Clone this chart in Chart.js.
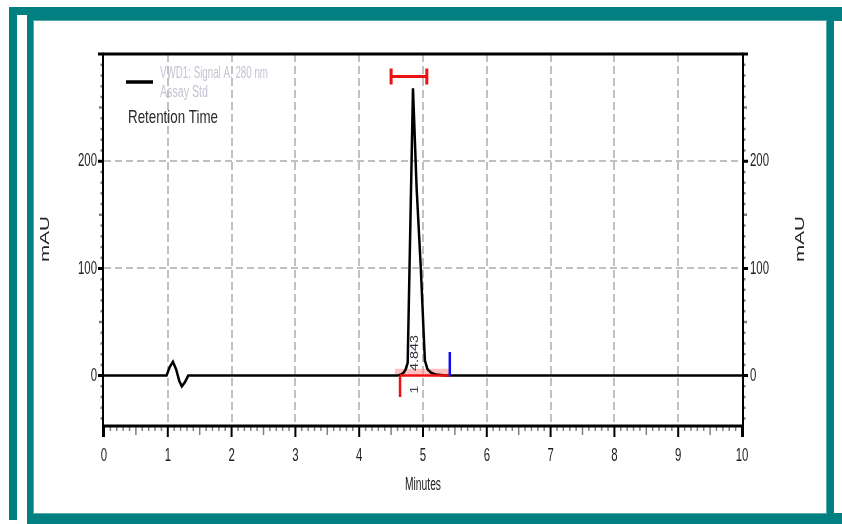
<!DOCTYPE html>
<html>
<head>
<meta charset="utf-8">
<title>Chromatogram</title>
<script src="https://cdn.jsdelivr.net/npm/chart.js@4.4.1/dist/chart.umd.min.js"></script>
<style>
  html, body { margin: 0; padding: 0; background: #fff; }
  #wrap { position: relative; width: 842px; height: 524px; overflow: hidden; background: #fff; }
  .fr { position: absolute; }
  #chart { position: absolute; left: 0; top: 0; }
</style>
</head>
<body>
<div id="wrap">
  <!-- window frame -->
  <div class="fr" style="left:9px;top:7px;width:833px;height:517px;background:#008080"></div>
  <div class="fr" style="left:17px;top:15px;width:10px;height:505px;background:#fff"></div>
  <div class="fr" style="left:9px;top:520px;width:18px;height:4px;background:#fff"></div>
  <div class="fr" style="left:34px;top:21px;width:792px;height:492px;background:#fff;box-shadow:0 0 0 1px #5aa9a9"></div>
  <div class="fr" style="left:834px;top:21px;width:8px;height:492px;background:#fff"></div>
  <canvas id="chart" width="842" height="524"></canvas>
</div>
<script>
// signal trace (minutes, mAU)
var timeMin = [0, 0.98, 1.03, 1.08, 1.13, 1.18, 1.22, 1.27, 1.32, 4.60, 4.66, 4.70, 4.73, 4.76, 4.843, 4.90, 4.966, 5.01, 5.03, 5.07, 5.12, 5.20, 5.35, 10];
var signal  = [0, 0, 8, 13, 6, -5, -10, -6, 0, 0, 1, 3, 6, 12, 268, 175, 100, 40, 14, 6, 3, 1, 0, 0];

// retention time window and integration marks
var rtWindow = [4.50, 5.06];
var rtWindowLevel = 279;
var intStart = 4.64, intEnd = 5.42;
var intStartDrop = -20, intEndRise = 22;
var peakRT = '4.843';

// axes
var xRange = [0, 10];
var yRange = [-47, 300];
var xTickLabels = ['0', '1', '2', '3', '4', '5', '6', '7', '8', '9', '10'];
var yTickValues = [0, 100, 200];

var legendText = ['VWD1: Signal A, 280 nm', 'Assay Std'];
var legendExtra = 'Retention Time';
var yTitle = 'mAU';
var xTitle = 'Minutes';

var FONT = 'Liberation Sans, Arial, sans-serif';
var RED = '#ee1111';

function pts(xs, ys) {
  return xs.map(function (x, i) { return { x: x, y: ys[i] }; });
}

// text drawn narrow and tall, like the instrument printout
function squish(ctx, str, x, y, o) {
  ctx.save();
  ctx.translate(x, y);
  if (o.rot) ctx.rotate(o.rot);
  ctx.font = o.size + 'px ' + FONT;
  var along = o.sx;
  if (o.w) along = o.w / ctx.measureText(str).width;
  ctx.scale(along, o.sy || 1);
  ctx.fillStyle = o.color || '#222';
  ctx.textAlign = o.align || 'center';
  ctx.textBaseline = 'middle';
  ctx.fillText(str, 0, 0);
  ctx.restore();
}

var decor = {
  id: 'decor',
  afterDatasetsDraw: function (chart) {
    var ctx = chart.ctx;
    var a = chart.chartArea;
    var xs = chart.scales.x, ys = chart.scales.y;
    ctx.save();
    ctx.lineCap = 'butt';

    // y ticks on both sides
    for (var v = -40; v <= 300; v += 10) {
      var py = ys.getPixelForValue(v);
      var major = v % 100 === 0, mid = v % 50 === 0;
      ctx.strokeStyle = major ? '#000' : '#808080';
      ctx.lineWidth = major ? 3 : 2.5;
      var len = major ? 6 : (mid ? 5 : 3.5);
      ctx.beginPath();
      ctx.moveTo(a.left - len, py); ctx.lineTo(a.left, py);
      ctx.moveTo(a.right, py); ctx.lineTo(a.right + len, py);
      ctx.stroke();
    }
    // x ticks
    for (var i = 0; i <= 100; i++) {
      var px = xs.getPixelForValue(i / 10);
      var maj = i % 10 === 0, half = i % 5 === 0;
      ctx.strokeStyle = maj ? '#000' : '#808080';
      ctx.lineWidth = maj ? 2 : 1.5;
      ctx.beginPath();
      ctx.moveTo(px, a.bottom);
      ctx.lineTo(px, a.bottom + (maj ? 11 : (half ? 9 : 5)));
      ctx.stroke();
    }

    // frame of the plot
    ctx.strokeStyle = '#000';
    ctx.lineWidth = 3;
    ctx.beginPath();
    ctx.moveTo(a.left - 1, a.top); ctx.lineTo(a.right + 1, a.top);
    ctx.moveTo(a.left - 1, a.bottom); ctx.lineTo(a.right + 1, a.bottom);
    ctx.stroke();
    ctx.lineWidth = 2;
    ctx.beginPath();
    ctx.moveTo(a.left - 1, a.top); ctx.lineTo(a.left - 1, a.bottom + 11);
    ctx.moveTo(a.right + 1, a.top); ctx.lineTo(a.right + 1, a.bottom + 11);
    ctx.stroke();

    // tick labels
    yTickValues.forEach(function (v) {
      var py = ys.getPixelForValue(v);
      squish(ctx, String(v), a.left - 7, py, { size: 19, sx: 0.6, align: 'right' });
      squish(ctx, String(v), a.right + 8, py, { size: 19, sx: 0.6, align: 'left' });
    });
    xTickLabels.forEach(function (t, i) {
      squish(ctx, t, xs.getPixelForValue(i), a.bottom + 30, { size: 19, sx: 0.6 });
    });

    // axis titles
    squish(ctx, yTitle, 46, 239, { size: 20, w: 46, sy: 0.62, rot: -Math.PI / 2 });
    squish(ctx, yTitle, 801, 239, { size: 20, w: 46, sy: 0.62, rot: -Math.PI / 2 });
    squish(ctx, xTitle, (a.left + a.right) / 2, 485, { size: 18, w: 36 });

    // legend
    ctx.strokeStyle = '#000';
    ctx.lineWidth = 3.5;
    ctx.beginPath();
    ctx.moveTo(126, 82); ctx.lineTo(153, 82);
    ctx.stroke();
    squish(ctx, legendText[0], 160, 74, { size: 16, w: 108, align: 'left', color: '#c4c4d2' });
    squish(ctx, legendText[1], 160, 93, { size: 16, w: 48, align: 'left', color: '#c4c4d2' });
    squish(ctx, legendExtra, 128, 118, { size: 19, w: 90, align: 'left', color: '#2a2a2a' });

    // retention time label on the peak
    var rx = xs.getPixelForValue(4.843) + 2;
    squish(ctx, peakRT, rx, ys.getPixelForValue(21), { size: 15, w: 36, sy: 0.7, rot: -Math.PI / 2, color: '#334' });
    squish(ctx, '1', rx, ys.getPixelForValue(-13), { size: 14, sx: 1, sy: 0.8, rot: -Math.PI / 2, color: '#445' });

    ctx.restore();
  }
};

new Chart(document.getElementById('chart'), {
  type: 'line',
  data: {
    datasets: [
      {
        data: pts(timeMin, signal),
        borderColor: '#000', borderWidth: 2.5, pointRadius: 0, tension: 0, order: 5
      },
      {
        data: pts([4.56, intEnd], [3.5, 3.5]),
        borderColor: 'rgba(255,140,140,0.55)', borderWidth: 6, pointRadius: 0, order: 6
      },
      {
        data: pts([intStart, intEnd], [0, 0]),
        borderColor: RED, borderWidth: 2.5, pointRadius: 0, order: 2
      },
      {
        data: pts([intStart, intStart], [0, intStartDrop]),
        borderColor: RED, borderWidth: 2.5, pointRadius: 0, order: 1
      },
      {
        data: pts([intEnd, intEnd], [0, intEndRise]),
        borderColor: '#1010ee', borderWidth: 2.5, pointRadius: 0, order: 1
      },
      {
        data: pts(rtWindow, [rtWindowLevel, rtWindowLevel]),
        borderColor: RED, borderWidth: 3, order: 1,
        pointStyle: 'line', rotation: 90, pointRadius: 8,
        pointBorderColor: RED, pointBorderWidth: 3
      }
    ]
  },
  options: {
    responsive: false,
    animation: false,
    devicePixelRatio: 1,
    layout: { padding: { top: 54, left: 0, right: 0, bottom: 0 } },
    plugins: { legend: { display: false }, tooltip: { enabled: false } },
    scales: {
      x: {
        type: 'linear', min: xRange[0], max: xRange[1],
        ticks: { stepSize: 1, display: false },
        grid: {
          drawTicks: false, lineWidth: 2,
          color: function (c) { return c.tick && c.tick.value > 0 && c.tick.value < 10 ? '#c0c0c0' : 'rgba(0,0,0,0)'; }
        },
        border: { display: false, dash: [8, 4] },
        afterFit: function (s) { s.height = 98; }
      },
      y: {
        position: 'left', min: yRange[0], max: yRange[1],
        ticks: { stepSize: 100, display: false },
        grid: {
          drawTicks: false, lineWidth: 2,
          color: function (c) { return c.tick && (c.tick.value === 100 || c.tick.value === 200) ? '#c0c0c0' : 'rgba(0,0,0,0)'; }
        },
        border: { display: false, dash: [7, 4] },
        afterFit: function (s) { s.width = 104; }
      },
      y2: {
        position: 'right', min: yRange[0], max: yRange[1], display: true,
        ticks: { display: false },
        grid: { display: false, drawTicks: false },
        border: { display: false },
        afterFit: function (s) { s.width = 100; }
      }
    }
  },
  plugins: [decor]
});
</script>
</body>
</html>
